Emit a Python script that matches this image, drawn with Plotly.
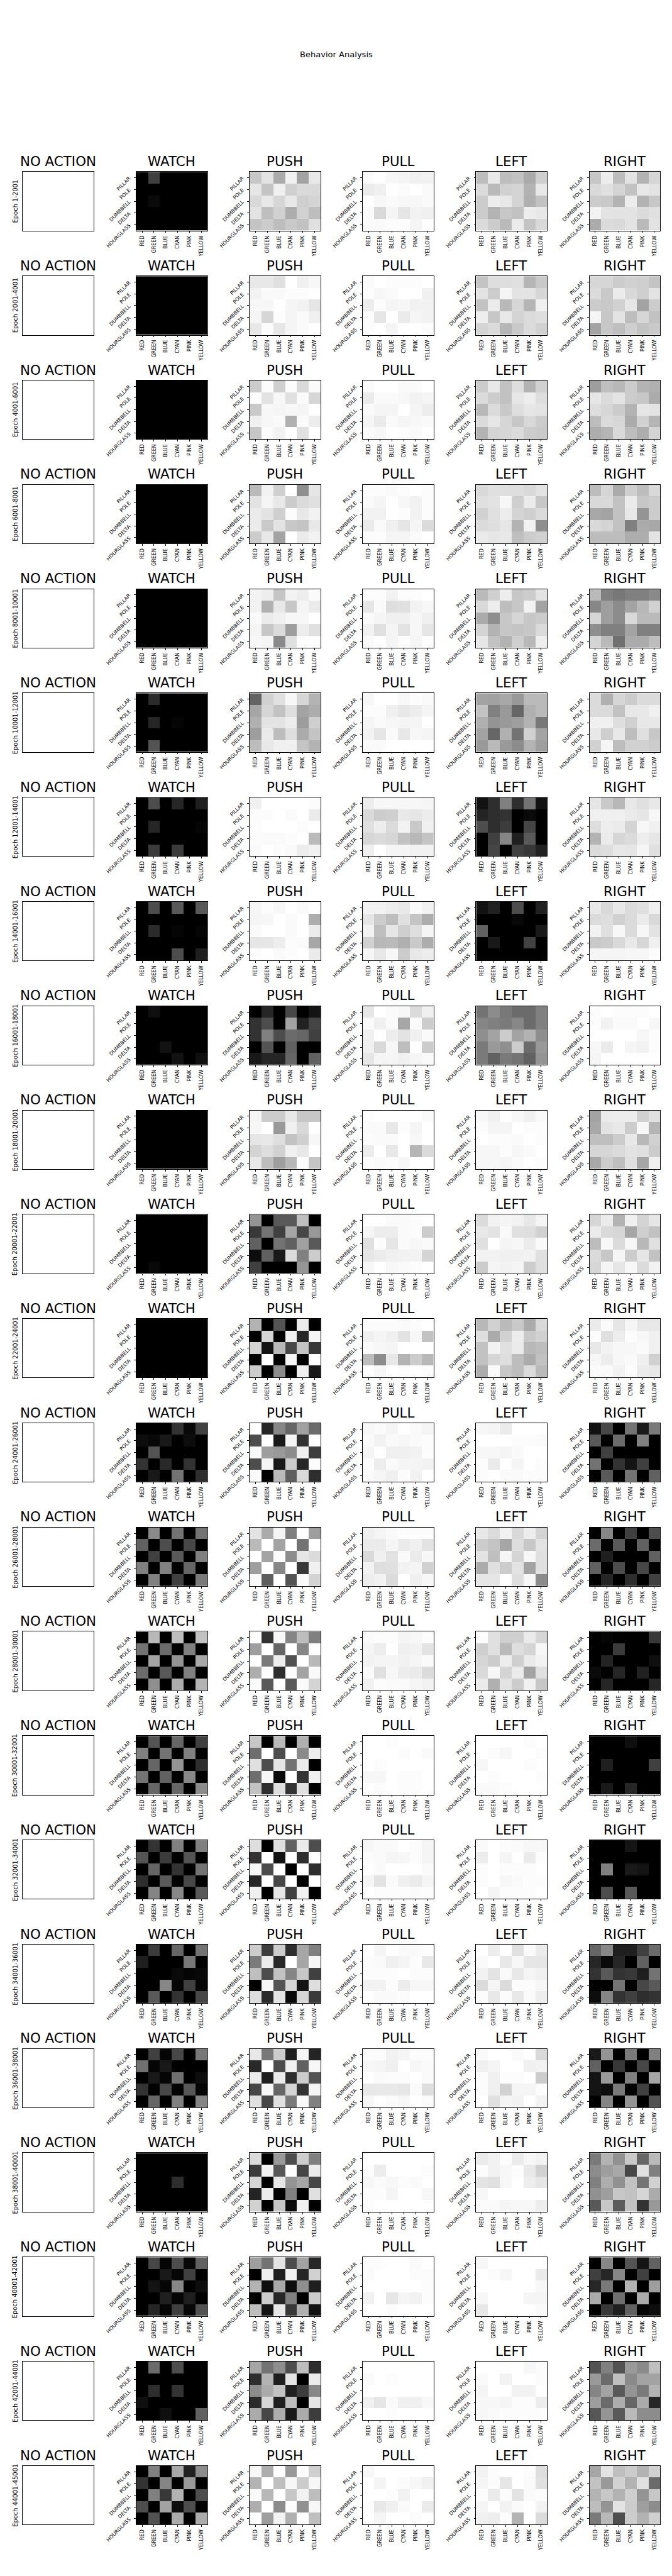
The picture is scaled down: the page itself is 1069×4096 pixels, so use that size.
import plotly.graph_objects as go

TITLE = "Behavior Analysis"
ACTIONS = ["NO ACTION", "WATCH", "PUSH", "PULL", "LEFT", "RIGHT"]
COLORS = ["RED", "GREEN", "BLUE", "CYAN", "PINK", "YELLOW"]
SHAPES = ["PILLAR", "POLE", "DUMBBELL", "DELTA", "HOURGLASS"]
EPOCHS = ["1-2001", "2001-4001", "4001-6001", "6001-8001", "8001-10001", "10001-12001",
          "12001-14001", "14001-16001", "16001-18001", "18001-20001", "20001-22001",
          "22001-24001", "24001-26001", "26001-28001", "28001-30001", "30001-32001",
          "32001-34001", "34001-36001", "36001-38001", "38001-40001", "40001-42001",
          "42001-44001", "44001-45001"]

# Values: share of trials, in percent (0 = white, 100 = black). One block per epoch.
A = [100] * 6
WATCH = [
 [[100,75,100,100,100,100],A,[100,96,100,100,100,100],A,A],
 [A,A,A,A,A],
 [A,A,A,A,A],
 [A,A,A,A,A],
 [A,A,A,A,A],
 [[100,83,100,100,100,100],A,[100,85,100,98,100,100],A,[100,67,100,100,100,100]],
 [[100,70,100,85,100,88],A,[100,85,100,100,100,98],A,[100,77,100,77,100,100]],
 [[100,70,100,65,100,65],A,[100,83,100,98,100,98],A,[100,100,100,70,100,88]],
 [[100,94,100,100,100,100],A,A,[100,100,93,100,100,100],[100,100,100,93,100,94]],
 [A,A,A,A,A],
 [A,A,A,A,[100,97,100,100,100,100]],
 [A,A,A,A,A],
 [[100,100,100,80,97,75],[95,97,90,100,95,100],[100,67,100,100,100,100],[80,100,84,100,80,100],[100,90,100,55,100,82]],
 [[100,46,100,55,100,55],[62,100,70,100,72,100],[100,75,100,65,100,50],[50,100,50,100,60,100],[100,50,100,75,100,52]],
 [[100,28,100,26,100,24],[55,100,58,100,50,100],[100,36,100,42,100,34],[58,100,65,100,50,100],[100,44,100,32,100,30]],
 [[100,67,100,60,100,75],[50,100,55,100,50,100],[100,60,100,42,100,82],[55,100,62,100,47,100],[100,60,100,60,100,45]],
 [[100,80,100,50,100,50],[67,100,77,100,67,100],[100,60,100,80,100,55],[82,100,65,100,72,100],[100,48,100,47,100,65]],
 [[100,77,100,60,100,55],[88,100,100,100,53,100],[100,100,100,96,98,97],[100,100,47,98,75,98],[100,65,100,80,100,72]],
 [[100,75,98,72,100,53],[56,98,90,100,100,100],[100,90,98,56,100,95],[80,100,72,100,66,98],[100,60,100,50,100,48]],
 [A,A,[100,100,100,82,100,100],A,A],
 [[100,72,98,70,97,62],[100,100,90,98,75,100],[100,92,98,47,100,95],[100,100,88,98,88,100],[100,85,98,75,97,68]],
 [[100,58,100,70,100,100],A,[100,82,100,80,100,100],[94,100,100,100,100,100],[100,100,94,100,100,62]],
 [[100,50,100,34,87,45],[80,100,48,100,40,100],[100,50,78,30,100,70],[70,100,37,95,70,100],[100,68,100,33,100,33]],
]
PUSH = [
 [[22,11,33,5,36,9],[10,23,6,19,15,15],[15,9,16,9,19,17],[11,25,18,32,18,26],[23,20,26,21,24,12]],
 [[9,9,12,0,6,3],[5,2,2,1,1,0],[3,3,0,4,5,10],[4,16,1,4,2,6],[9,1,10,4,2,0]],
 [[20,1,19,1,15,2],[1,11,3,12,2,16],[21,3,4,3,4,0],[6,3,2,31,2,7],[22,1,5,0,12,0]],
 [[27,5,19,0,44,10],[11,4,9,20,14,12],[8,11,19,1,9,5],[8,21,11,22,23,9],[20,9,36,0,8,5]],
 [[5,7,23,5,7,2],[5,31,9,22,4,8],[2,8,6,3,3,0],[4,22,14,38,7,12],[3,4,46,12,1,1]],
 [[61,18,12,3,16,30],[35,16,24,13,36,32],[31,11,11,7,39,19],[38,8,26,13,33,23],[26,9,6,6,23,30]],
 [[6,0,0,0,0,1],[1,1,0,2,0,8],[1,0,0,0,1,0],[1,2,2,1,0,27],[2,0,1,2,7,5]],
 [[4,1,3,0,2,0],[4,3,0,2,0,32],[2,0,0,2,0,8],[10,10,7,1,2,35],[1,0,2,1,0,8]],
 [[100,85,100,72,100,92],[80,70,100,36,87,73],[80,50,70,58,60,75],[100,67,100,62,100,100],[90,85,85,60,100,62]],
 [[4,20,20,9,22,22],[3,0,40,6,15,0],[10,9,13,24,19,3],[17,13,18,6,9,0],[9,26,38,28,1,23]],
 [[42,100,65,65,25,100],[78,55,75,35,72,40],[62,100,55,62,37,65],[95,62,90,14,50,20],[75,100,100,100,41,100]],
 [[30,100,67,100,8,100],[100,16,100,6,85,4],[17,92,28,72,23,78],[100,0,100,4,100,0],[20,100,45,100,6,90]],
 [[0,85,47,60,37,58],[70,0,90,4,80,1],[2,38,40,45,6,76],[70,4,90,20,85,1],[2,100,27,63,15,82]],
 [[11,33,4,50,0,38],[27,0,36,0,55,0],[0,36,1,45,10,14],[38,0,47,0,78,6],[2,63,0,67,2,17]],
 [[1,80,3,48,26,50],[38,0,60,0,47,0],[0,52,7,68,0,28],[32,1,82,1,36,2],[2,65,0,65,2,17]],
 [[22,100,27,100,31,100],[57,0,70,0,46,7],[12,70,10,55,8,100],[57,3,96,0,80,6],[24,82,13,80,12,100]],
 [[13,100,12,62,8,70],[80,0,92,0,82,0],[3,70,0,100,0,82],[85,0,72,0,100,0],[6,100,10,75,6,100]],
 [[20,76,20,82,35,50],[52,8,84,0,35,4],[25,70,24,48,22,75],[100,3,67,16,92,13],[13,83,11,96,16,77]],
 [[9,53,20,88,4,86],[84,0,70,6,62,3],[8,88,8,82,20,67],[72,3,60,17,80,4],[12,72,12,52,2,50]],
 [[14,100,40,70,20,50],[77,5,66,1,73,8],[16,100,10,42,35,72],[86,7,100,50,100,12],[18,100,22,96,6,100]],
 [[38,55,11,70,36,85],[100,6,88,5,85,18],[30,95,34,95,44,88],[100,20,85,50,100,20],[26,92,10,78,31,93]],
 [[35,55,44,70,26,82],[82,30,88,11,100,8],[45,33,24,88,76,47],[83,16,88,26,100,10],[33,72,32,90,33,76]],
 [[3,32,0,40,1,19],[30,0,25,3,20,3],[2,28,0,22,5,26],[32,0,45,1,43,3],[0,38,5,31,0,25]],
]
PULL = [
 [[1,0,3,4,6,5],[8,6,0,1,0,2],[0,3,2,3,3,2],[2,15,4,10,5,6],[2,2,1,1,4,0]],
 [[2,0,1,1,1,0],[1,3,2,0,0,6],[7,1,4,3,5,5],[1,10,0,8,4,5],[1,0,4,0,0,1]],
 [[2,0,0,2,2,0],[8,2,2,3,5,4],[2,4,4,0,4,7],[4,8,2,4,3,2],[2,3,0,1,2,0]],
 [[1,1,2,1,0,1],[2,4,0,3,5,1],[5,5,0,1,5,1],[8,2,6,10,4,14],[1,1,4,4,2,0]],
 [[1,1,5,1,1,0],[10,2,13,12,5,3],[2,4,6,6,3,6],[5,12,4,11,3,10],[2,0,4,1,4,1]],
 [[3,0,0,3,1,2],[1,1,6,9,7,4],[4,2,3,4,4,0],[5,10,2,9,3,4],[2,2,0,0,0,0]],
 [[7,3,3,3,3,4],[15,20,19,9,10,7],[12,7,14,5,21,6],[16,14,16,24,28,23],[6,0,4,4,5,5]],
 [[5,5,7,9,2,5],[10,20,26,12,23,32],[5,25,10,19,13,4],[18,28,27,31,21,32],[4,9,3,20,9,7]],
 [[10,0,2,3,14,6],[2,6,2,35,2,20],[6,0,7,11,6,2],[6,15,3,26,0,20],[10,4,4,6,4,2]],
 [[1,0,0,0,0,2],[2,2,9,1,4,0],[1,2,2,0,3,0],[7,0,9,0,29,14],[1,2,1,3,0,0]],
 [[0,0,2,2,1,0],[4,7,7,2,1,20],[12,1,10,2,3,2],[10,8,6,5,5,17],[3,0,3,2,1,0]],
 [[1,1,1,2,1,0],[6,4,6,11,3,24],[2,3,4,0,0,0],[26,45,9,30,20,28],[0,3,0,1,0,1]],
 [[3,2,4,0,2,4],[2,5,2,3,2,1],[4,0,6,6,5,1],[1,7,2,4,4,5],[2,4,6,1,5,0]],
 [[6,4,2,1,1,1],[8,8,4,8,6,11],[15,6,11,2,8,3],[5,13,12,5,4,18],[7,5,14,0,6,3]],
 [[2,1,1,4,3,1],[4,7,0,6,5,11],[5,4,4,5,4,2],[2,12,3,7,8,14],[5,1,2,2,4,5]],
 [[0,0,1,0,0,0],[0,0,0,1,0,2],[0,1,0,0,0,0],[3,3,0,1,1,0],[0,1,0,1,1,0]],
 [[3,2,2,0,1,4],[1,2,4,3,1,4],[0,2,0,0,0,2],[4,11,2,6,8,4],[0,1,1,1,2,1]],
 [[0,4,0,2,2,1],[1,2,6,4,1,9],[1,1,1,0,1,1],[5,5,1,7,3,3],[0,2,2,1,0,0]],
 [[1,1,5,4,1,1],[3,4,6,0,3,2],[0,2,1,1,0,2],[9,9,9,10,2,13],[3,0,2,3,0,1]],
 [[0,0,0,0,0,0],[1,7,0,0,0,1],[3,2,3,1,2,0],[1,1,4,0,0,3],[1,0,0,0,0,0]],
 [[1,1,0,0,2,0],[2,0,0,0,1,1],[0,0,0,0,0,1],[5,0,10,4,5,1],[0,0,1,0,0,0]],
 [[0,0,0,0,0,0],[2,0,1,0,0,0],[0,0,0,0,0,0],[6,10,2,6,6,3],[0,0,1,0,0,0]],
 [[3,0,0,0,0,0],[0,4,0,1,3,6],[0,0,1,5,0,0],[1,9,6,2,0,8],[0,4,0,0,1,0]],
]
LEFT = [
 [[26,9,26,24,33,19],[14,27,18,17,30,9],[20,7,9,17,31,24],[20,30,22,24,7,9],[14,20,27,8,23,15]],
 [[23,13,13,12,29,21],[11,20,4,11,11,16],[24,8,28,16,29,6],[7,22,9,17,14,13],[17,14,29,21,14,18]],
 [[20,9,24,13,30,18],[14,20,24,10,7,13],[28,14,21,13,10,11],[14,10,16,22,15,20],[30,17,16,14,20,21]],
 [[15,12,13,13,15,11],[12,11,3,19,8,22],[18,12,7,17,19,14],[14,13,10,30,5,44],[8,10,9,25,20,18]],
 [[27,19,7,22,20,11],[15,7,26,22,5,36],[33,44,22,16,22,20],[17,30,22,23,22,14],[10,24,30,19,28,7]],
 [[36,37,34,40,27,27],[24,50,40,60,31,27],[31,42,40,38,30,53],[36,60,31,55,18,36],[40,27,40,45,30,38]],
 [[93,82,50,82,55,93],[86,82,80,100,96,100],[70,82,76,100,73,100],[100,75,48,88,65,100],[100,73,100,75,78,87]],
 [[93,87,100,70,100,87],[100,100,100,97,100,100],[62,100,100,100,100,90],[100,90,100,100,74,100],[100,100,100,100,100,100]],
 [[55,45,53,58,58,50],[48,50,52,47,58,50],[44,36,20,36,30,44],[52,40,44,20,58,40],[52,62,52,55,62,42]],
 [[3,6,0,3,6,2],[1,4,4,0,1,1],[0,1,1,2,0,1],[3,3,1,3,2,0],[3,3,4,2,0,1]],
 [[14,5,4,5,9,4],[9,11,2,12,13,18],[12,0,4,3,8,2],[5,5,6,6,5,12],[20,4,5,4,20,12]],
 [[28,18,27,21,33,15],[13,33,18,7,21,18],[24,5,12,8,28,26],[24,16,13,26,33,24],[32,2,22,26,14,27]],
 [[3,4,8,0,0,0],[0,0,0,1,1,2],[3,3,4,2,0,0],[1,8,0,4,0,1],[1,0,2,2,1,1]],
 [[9,14,5,15,7,17],[20,23,35,13,22,11],[11,25,4,17,3,12],[33,12,20,11,36,12],[10,10,0,13,3,45]],
 [[1,12,19,19,8,16],[19,12,27,13,17,3],[16,20,7,19,8,5],[15,3,17,8,36,12],[8,31,11,20,6,22]],
 [[0,0,0,0,1,0],[0,1,3,0,0,1],[3,0,0,0,1,0],[0,1,0,0,0,1],[2,2,1,0,0,0]],
 [[2,0,1,2,3,3],[7,0,4,0,8,1],[1,0,1,1,1,0],[1,0,3,2,1,1],[0,4,1,1,1,0]],
 [[0,7,0,12,2,8],[2,0,9,3,10,10],[5,11,2,9,4,6],[14,4,14,1,1,3],[1,9,1,9,2,7]],
 [[2,0,0,2,0,15],[6,4,0,0,6,5],[1,6,1,1,0,20],[1,6,18,4,4,1],[0,12,4,5,0,5]],
 [[8,5,1,8,3,5],[1,5,3,1,9,18],[11,12,3,0,7,10],[3,0,0,0,0,0],[2,2,4,3,3,7]],
 [[3,0,0,0,0,0],[0,1,3,0,0,8],[0,0,0,0,0,3],[3,0,0,0,4,4],[9,0,0,0,0,2]],
 [[0,0,0,0,3,1],[2,0,5,0,0,1],[4,0,0,5,5,0],[3,3,4,1,1,7],[3,2,1,1,1,1]],
 [[5,1,0,0,1,13],[4,1,10,0,2,12],[1,8,1,11,2,1],[4,0,5,2,0,5],[6,7,1,30,0,14]],
]
RIGHT = [
 [[22,7,26,11,30,16],[15,12,17,24,9,11],[20,21,30,7,30,22],[5,11,11,11,14,12],[33,14,15,11,27,11]],
 [[16,16,20,18,19,23],[14,21,8,15,19,11],[20,21,18,10,36,20],[4,22,11,26,16,24],[36,22,25,19,24,21]],
 [[38,25,28,20,30,31],[10,14,11,20,22,33],[13,16,20,30,10,11],[26,14,16,33,18,29],[32,29,15,26,32,17]],
 [[26,16,33,19,26,15],[15,15,24,8,22,20],[34,36,24,9,42,20],[15,17,24,50,33,34],[26,26,26,32,32,11]],
 [[27,50,53,50,50,46],[47,38,45,36,28,18],[16,38,45,15,27,27],[44,50,50,36,50,50],[17,27,56,33,33,26]],
 [[14,31,16,20,14,14],[14,14,24,9,9,6],[6,6,13,18,9,9],[9,19,9,26,12,22],[18,4,26,18,18,20]],
 [[10,21,28,9,12,9],[6,6,6,8,10,3],[13,7,8,17,3,6],[30,8,16,14,7,10],[14,13,9,10,4,12]],
 [[9,15,9,14,12,6],[14,13,18,14,8,15],[5,12,3,14,3,11],[21,20,15,9,16,6],[4,4,4,3,3,1]],
 [[1,0,1,1,1,0],[1,5,2,2,0,3],[0,0,0,0,3,1],[3,8,0,4,5,1],[4,0,0,0,0,0]],
 [[36,8,7,7,18,12],[34,11,9,20,3,29],[25,25,20,9,28,18],[16,16,14,11,12,20],[34,20,25,12,35,6]],
 [[16,8,30,6,17,10],[8,15,16,35,19,24],[26,3,14,3,28,12],[14,22,4,20,10,24],[16,4,10,3,14,5]],
 [[8,2,10,4,9,9],[1,12,7,1,3,6],[9,5,3,3,2,6],[3,7,3,2,6,18],[2,2,5,1,8,9]],
 [[93,72,100,55,90,52],[65,100,58,100,50,100],[100,75,100,100,100,100],[55,100,80,92,75,100],[100,65,100,55,100,62]],
 [[100,47,100,75,100,70],[58,100,65,100,62,100],[100,88,100,100,100,62],[62,100,70,100,72,100],[100,85,100,82,100,75]],
 [[100,98,100,100,100,78],[100,100,77,100,100,100],[100,86,100,100,100,94],[96,100,85,100,87,100],[100,85,100,100,100,85]],
 [[100,100,100,94,100,100],A,[100,88,100,100,100,75],A,[100,90,100,85,100,100]],
 [[100,100,100,92,100,100],A,[100,50,100,90,92,100],A,[100,70,100,65,100,100]],
 [[60,47,88,88,75,58],[85,96,85,100,62,100],[80,65,80,78,88,55],[100,100,55,100,72,65],[95,48,80,75,82,80]],
 [[90,42,100,52,100,50],[62,100,78,100,72,100],[92,40,100,50,100,35],[92,95,52,100,75,100],[100,48,100,42,100,68]],
 [[52,30,43,21,60,27],[45,38,34,72,12,50],[50,32,43,24,55,18],[43,38,22,24,16,33],[65,22,64,24,80,40]],
 [[100,47,100,67,92,62],[75,85,47,100,75,100],[85,52,100,30,100,38],[33,100,57,100,33,100],[100,78,88,62,98,95]],
 [[68,50,68,40,46,25],[40,58,25,46,36,36],[48,36,65,42,52,30],[38,58,32,60,33,85],[66,42,65,27,45,45]],
 [[35,11,25,20,30,18],[24,40,18,30,12,58],[30,22,30,19,42,22],[26,42,11,20,38,45],[52,28,70,20,30,19]],
]
NO_ACTION = [[[0] * 6 for _ in SHAPES] for _ in EPOCHS]
PANELS = [NO_ACTION, WATCH, PUSH, PULL, LEFT, RIGHT]

# Geometry in reference pixels, converted to paper fractions by the axes.
REF_W, REF_H = 1800, 6900
COL_LEFT = [61, 365, 668.5, 971, 1275.3, 1578.6]
AX_W = 190
ROW_TOP0, ROW_PITCH, AX_H = 463.8, 281.28, 158.4
S = 1069 / REF_W
FONT = "DejaVu Sans"
TICK_SIZE = 8.0

traces, annots = [], []
layout = dict(width=1069, height=4096, autosize=False, margin=dict(l=0, r=0, t=0, b=0, pad=0),
              paper_bgcolor="white", plot_bgcolor="white", showlegend=False,
              font=dict(family=FONT, color="black"))
annots.append(dict(text=TITLE, x=900 / REF_W, y=1 - 146 / REF_H, xref="paper", yref="paper",
                   showarrow=False, xanchor="center", yanchor="middle",
                   font=dict(family=FONT, size=22 * S, color="black")))
n = 0
for r, epoch in enumerate(EPOCHS):
    top = ROW_TOP0 + ROW_PITCH * r
    for c, action in enumerate(ACTIONS):
        n += 1
        left = COL_LEFT[c]
        traces.append(go.Heatmap(z=PANELS[c][r], xaxis=f"x{n}", yaxis=f"y{n}", zmin=0, zmax=100,
                                 colorscale=[[0, "#ffffff"], [1, "#000000"]], showscale=False,
                                 hoverinfo="skip"))
        show = c > 0
        layout[f"xaxis{n}"] = dict(domain=[left / REF_W, (left + AX_W) / REF_W], anchor=f"y{n}",
                                   range=[-0.5, 5.5], showgrid=False, zeroline=False, mirror=True,
                                   showline=True, linecolor="black", linewidth=0.7,
                                   tickmode="array", tickvals=list(range(6)) if show else [],
                                   ticktext=COLORS if show else [], tickangle=-90,
                                   ticks="outside" if show else "", ticklen=2.9, tickwidth=0.6,
                                   ticklabelstandoff=1,
                                   tickcolor="black", tickfont=dict(family=FONT, size=TICK_SIZE, color="black"))
        layout[f"yaxis{n}"] = dict(domain=[1 - (top + AX_H) / REF_H, 1 - top / REF_H], anchor=f"x{n}",
                                   range=[4.5, -0.5], showgrid=False, zeroline=False, mirror=True,
                                   showline=True, linecolor="black", linewidth=0.7,
                                   tickmode="array", tickvals=list(range(5)) if show else [],
                                   ticktext=SHAPES if show else [], tickangle=-45,
                                   ticks="outside" if show else "", ticklen=2.9, tickwidth=0.6,
                                   ticklabelstandoff=6,
                                   tickcolor="black", tickfont=dict(family=FONT, size=TICK_SIZE, color="black"))
        annots.append(dict(text=action, x=(left + AX_W / 2) / REF_W, y=1 - (top - 28.5) / REF_H,
                           xref="paper", yref="paper", showarrow=False, xanchor="center",
                           yanchor="middle", font=dict(family=FONT, size=36 * S, color="black")))
    annots.append(dict(text=f"Epoch {epoch}", x=41 / REF_W, y=1 - (top + AX_H / 2) / REF_H,
                       xref="paper", yref="paper", showarrow=False, textangle=-90,
                       xanchor="center", yanchor="middle",
                       font=dict(family=FONT, size=16.7 * S, color="black")))
layout["annotations"] = annots

fig = go.Figure(data=traces, layout=layout)
fig.write_html("out.html", config=dict(displayModeBar=False),
               post_script="document.body.style.margin='0';")
